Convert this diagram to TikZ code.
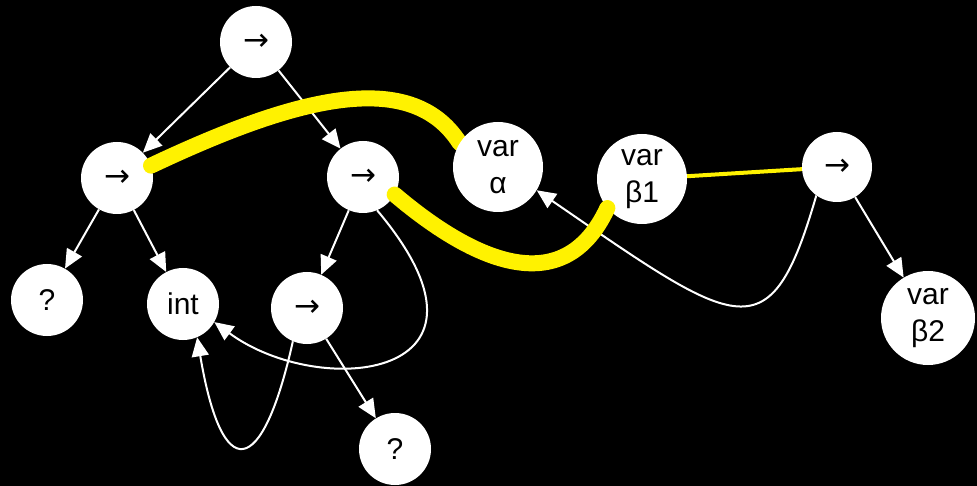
\documentclass[tikz,border=0pt]{standalone}
\usepackage{fontspec}
\setmainfont{Liberation Sans}
\newfontfamily\arrowfont{DejaVu Sans}
\usetikzlibrary{arrows.meta, positioning}
\pgfdeclarelayer{over}
\pgfsetlayers{main,over}
\newcommand{\fn}{{\arrowfont\fontsize{31}{36}\selectfont →}}

\begin{document}
\begin{tikzpicture}[x=1pt, y=-1pt, >={Triangle[length=19pt, width=17pt]},
  tnode/.style={circle, fill=white, inner sep=0pt, minimum size=72pt, align=center, font=\fontsize{30}{37}\selectfont},
  vnode/.style={tnode, minimum size=90pt},
  edge/.style={->, white, line width=2pt},
  link/.style={yellow, line width=16pt, line cap=round},
  thinlink/.style={yellow, line width=4pt}]
  \fill[black] (0,0) rectangle (977,486);

  \node[tnode] (top) at (256,42) {\fn};
  \node[tnode] (l1) at (117,178) {\fn};
  \node[tnode] (m1) at (363,177) {\fn};
  \node[tnode] (q1) at (47,300) {?};
  \node[tnode] (int) at (183,304) {int};
  \node[tnode] (m2) at (307,308) {\fn};
  \node[tnode] (q2) at (395,449) {?};
  \begin{pgfonlayer}{over}
    \node[vnode] (va) at (498,167) {var\\α};
  \end{pgfonlayer}
  \node[vnode] (vb1) at (642,179) {var\\β1};
  \node[tnode, minimum size=70pt] (r) at (837,167) {\fn};
  \node[vnode, minimum size=94pt] (vb2) at (928,318) {var\\β2};

  \draw[edge] (top) -- (l1);
  \draw[edge] (top) -- (m1);
  \draw[edge] (l1) -- (q1);
  \draw[edge] (l1) -- (int);
  \draw[edge] (m1) -- (m2);
  \draw[edge] (m2) -- (q2);
  \draw[edge] (r) -- (vb2);
  \draw[edge] (m1.-67) .. controls (520,380) and (320,400) .. (int.-30);
  \draw[edge] (m2.247) .. controls (262,480) and (222,485) .. (int.-67);
  \draw[edge] (r.234) .. controls (770,355) and (740,330) .. (va.-31);

  \draw[link] (l1.20) .. controls (290,100) and (410,65) .. (va.148);
  \draw[link] (m1.-29) .. controls (460,250) and (560,310) .. (vb1.220);
  \draw[thinlink] (vb1) -- (r);
\end{tikzpicture}
\end{document}
